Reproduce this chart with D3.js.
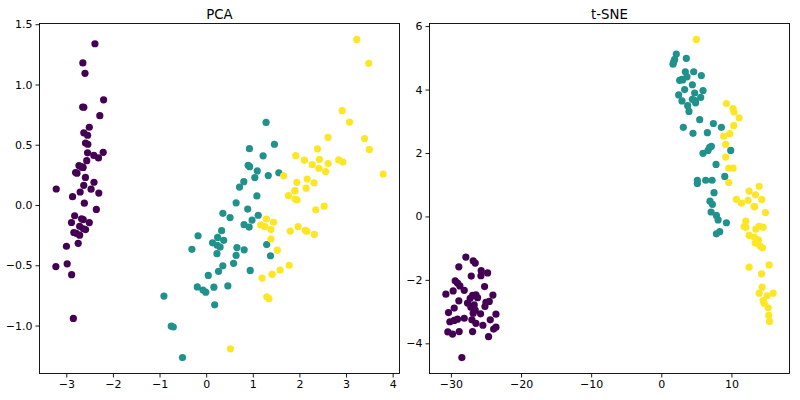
<!DOCTYPE html>
<html><head><meta charset="utf-8">
<script src="https://cdn.jsdelivr.net/npm/d3@7"></script>
<style>body{margin:0;background:#fff}svg{display:block}text{font-family:"DejaVu Sans",sans-serif}</style>
</head><body>
<svg id="c" width="800" height="400"></svg>
<script>
// PCA (iris) — class 0, 1, 2
const pca0 = [[-2.684,0.319],[-2.714,-0.177],[-2.889,-0.145],[-2.745,-0.318],[-2.729,0.327],[-2.281,0.741],[-2.821,-0.089],[-2.626,0.163],[-2.886,-0.578],[-2.673,-0.114],[-2.507,0.645],[-2.613,0.015],[-2.786,-0.235],[-3.224,-0.511],[-2.645,1.179],[-2.386,1.338],[-2.624,0.811],[-2.648,0.312],[-2.200,0.873],[-2.588,0.514],[-2.310,0.391],[-2.544,0.433],[-3.216,0.133],[-2.303,0.099],[-2.356,-0.037],[-2.507,-0.146],[-2.469,0.131],[-2.562,0.368],[-2.640,0.312],[-2.632,-0.197],[-2.587,-0.204],[-2.410,0.411],[-2.649,0.813],[-2.599,1.093],[-2.637,-0.121],[-2.866,0.069],[-2.625,0.599],[-2.801,0.269],[-2.981,-0.488],[-2.590,0.229],[-2.770,0.264],[-2.849,-0.941],[-2.997,-0.342],[-2.406,0.189],[-2.209,0.437],[-2.714,-0.250],[-2.538,0.504],[-2.839,-0.228],[-2.543,0.579],[-2.703,0.108]];
const pca1 = [[1.285,0.685],[0.932,0.318],[1.464,0.504],[0.183,-0.828],[1.088,0.075],[0.642,-0.418],[1.095,0.283],[-0.749,-1.005],[1.044,0.228],[-0.009,-0.723],[-0.508,-1.266],[0.512,-0.104],[0.265,-0.550],[0.985,-0.125],[-0.174,-0.255],[0.928,0.467],[0.660,-0.353],[0.236,-0.334],[0.945,-0.543],[0.045,-0.584],[1.116,-0.085],[0.358,-0.069],[1.298,-0.328],[0.922,-0.183],[0.715,0.149],[0.900,0.329],[1.332,0.244],[1.558,0.267],[0.813,-0.163],[-0.306,-0.368],[-0.068,-0.705],[-0.190,-0.680],[0.136,-0.314],[1.380,-0.421],[0.588,-0.484],[0.807,0.194],[1.221,0.408],[0.815,-0.372],[0.246,-0.269],[0.166,-0.682],[0.465,-0.671],[0.891,-0.034],[0.231,-0.404],[-0.705,-1.012],[0.357,-0.505],[0.332,-0.213],[0.376,-0.293],[0.643,0.018],[-0.906,-0.756],[0.299,-0.349]];
const pca2 = [[2.531,-0.010],[1.415,-0.575],[2.617,0.344],[1.972,-0.180],[2.350,-0.040],[3.397,0.551],[0.521,-1.193],[2.933,0.356],[2.321,-0.244],[2.917,0.783],[1.662,0.242],[1.803,-0.216],[2.166,0.216],[1.346,-0.777],[1.586,-0.540],[1.904,0.119],[1.950,0.042],[3.487,1.176],[3.796,0.257],[1.301,-0.761],[2.428,0.378],[1.199,-0.606],[3.500,0.461],[1.389,-0.204],[2.275,0.335],[2.614,0.561],[1.259,-0.180],[1.291,-0.117],[2.124,-0.210],[2.388,0.465],[2.842,0.375],[3.231,1.374],[2.159,-0.217],[1.444,-0.143],[1.781,-0.500],[3.076,0.688],[2.144,0.140],[1.905,0.049],[1.169,-0.165],[2.108,0.372],[2.314,0.184],[1.922,0.409],[1.415,-0.575],[2.563,0.278],[2.419,0.305],[1.944,0.188],[1.527,-0.375],[1.764,0.079],[1.901,0.117],[1.390,-0.283]];

// t-SNE — class 0, 1, 2
const tsne0 = [[-27.87,-1.28],[-26.82,-1.40],[-26.53,-1.47],[-28.87,-1.59],[-25.68,-1.71],[-24.77,-1.78],[-27.10,-1.88],[-25.72,-1.87],[-29.39,-2.03],[-29.06,-2.10],[-28.72,-2.19],[-29.68,-2.35],[-25.20,-2.21],[-30.72,-2.45],[-28.10,-2.33],[-26.91,-2.49],[-26.44,-2.47],[-27.25,-2.58],[-26.20,-2.56],[-24.01,-2.48],[-28.87,-2.66],[-27.63,-2.73],[-26.68,-2.79],[-25.01,-2.71],[-24.53,-2.68],[-29.53,-2.89],[-30.34,-3.03],[-26.53,-2.95],[-25.77,-3.07],[-25.15,-2.84],[-23.58,-3.08],[-28.10,-3.21],[-29.06,-3.24],[-29.53,-3.28],[-30.15,-3.32],[-27.01,-3.26],[-26.44,-3.37],[-25.44,-3.43],[-24.39,-3.26],[-23.91,-3.55],[-23.58,-3.49],[-30.44,-3.64],[-29.77,-3.71],[-28.82,-3.63],[-26.91,-3.63],[-24.63,-3.79],[-28.44,-4.45],[-27.15,-2.86],[-26.82,-3.05]];
const tsne1 = [[2.14,5.12],[1.90,4.95],[1.76,4.87],[1.67,4.80],[3.57,4.98],[3.43,4.56],[4.62,4.56],[2.62,4.29],[2.95,4.32],[3.67,4.40],[5.71,4.44],[4.43,4.15],[3.33,4.00],[4.76,3.89],[5.95,3.97],[2.48,3.83],[2.95,3.64],[4.43,3.69],[4.90,3.58],[5.62,3.75],[3.76,3.49],[3.95,3.31],[5.48,3.05],[3.14,2.81],[4.52,2.62],[7.43,2.93],[8.57,2.81],[6.57,2.64],[6.90,2.18],[7.14,2.21],[6.67,2.08],[5.95,1.99],[9.90,2.08],[7.81,1.64],[9.05,1.26],[5.14,1.14],[5.14,1.04],[6.33,1.14],[7.24,1.14],[7.52,0.75],[6.95,0.48],[7.29,0.38],[7.10,0.14],[7.86,0.03],[8.10,-0.11],[9.29,-0.20],[8.33,-0.48],[7.86,-0.55],[3.05,4.30],[4.80,3.65]];
const tsne2 = [[5.00,5.58],[9.29,3.56],[10.24,3.40],[10.38,3.29],[11.10,3.11],[10.33,2.86],[9.76,2.61],[8.90,2.53],[9.19,2.27],[9.19,1.87],[9.62,1.52],[10.24,1.52],[9.62,1.07],[13.95,0.95],[12.52,0.80],[10.71,0.54],[11.43,0.42],[12.38,0.51],[13.43,0.68],[14.33,0.53],[13.24,0.32],[14.86,0.12],[12.05,-0.15],[11.81,-0.32],[12.05,-0.34],[13.48,-0.40],[13.95,-0.31],[14.52,-0.34],[12.52,-0.60],[13.24,-0.65],[13.38,-0.84],[13.86,-0.74],[14.10,-0.94],[14.43,-0.99],[12.52,-1.60],[15.38,-1.53],[14.29,-1.81],[14.38,-2.23],[13.95,-2.42],[15.95,-2.42],[15.10,-2.50],[14.52,-2.65],[14.67,-2.74],[15.24,-2.88],[15.33,-3.12],[15.43,-3.31],[13.30,0.30]];

const colors = ["#440154","#21918c","#fde725"];
const pcaXTicks = [-3,-2,-1,0,1,2,3,4];
const pcaYTicks = [-1.0,-0.5,0.0,0.5,1.0,1.5];
const tsneXTicks = [-30,-20,-10,0,10];
const tsneYTicks = [-4,-2,0,2,4,6];

const svg = d3.select("#c");
const fmtMinus = s => s.replace("-", "\u2212");

function panel(title, groups, xt, yt, yfmt, box){
  const all = groups.flat();
  const xe = d3.extent(all, d=>d[0]), ye = d3.extent(all, d=>d[1]);
  const xp = (xe[1]-xe[0])*0.05, yp = (ye[1]-ye[0])*0.05;
  const x = d3.scaleLinear().domain([xe[0]-xp, xe[1]+xp]).range([box.l, box.r]);
  const y = d3.scaleLinear().domain([ye[0]-yp, ye[1]+yp]).range([box.b, box.t]);
  const g = svg.append("g");
  groups.forEach((pts,i)=>{
    g.append("g").selectAll("circle").data(pts).join("circle")
      .attr("cx", d=>x(d[0])).attr("cy", d=>y(d[1])).attr("r", 3.6)
      .attr("fill", colors[i]);
  });
  const xa = g.append("g").attr("transform",`translate(0,${box.b})`)
    .call(d3.axisBottom(x).tickValues(xt).tickSize(4).tickPadding(3).tickFormat(d=>fmtMinus(String(d))));
  const ya = g.append("g").attr("transform",`translate(${box.l},0)`)
    .call(d3.axisLeft(y).tickValues(yt).tickSize(4).tickPadding(3).tickFormat(d=>fmtMinus(yfmt(d))));
  [xa,ya].forEach(a=>{
    a.selectAll(".domain").remove();
    a.selectAll("line").attr("stroke","#000").attr("stroke-width",0.9);
    a.selectAll("text").attr("font-size",11).attr("fill","#000").attr("font-family","DejaVu Sans");
  });
  g.append("rect").attr("x",box.l).attr("y",box.t).attr("width",box.r-box.l).attr("height",box.b-box.t)
    .attr("fill","none").attr("stroke","#000").attr("stroke-width",0.9);
  g.append("text").attr("x",(box.l+box.r)/2).attr("y",box.t-5).attr("text-anchor","middle")
    .attr("font-size",13.3).attr("fill","#000").text(title);
}

panel("PCA", [pca0,pca1,pca2], pcaXTicks, pcaYTicks, d=>d.toFixed(1), {l:39.5,r:399.5,t:23.5,b:373.5});
panel("t-SNE", [tsne0,tsne1,tsne2], tsneXTicks, tsneYTicks, d=>String(d), {l:429.5,r:789.5,t:23.5,b:373.5});
</script>
</body></html>
